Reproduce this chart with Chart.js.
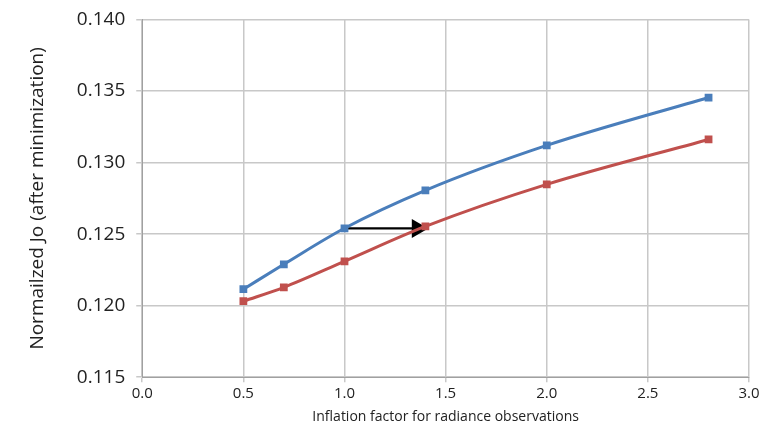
<!DOCTYPE html>
<html>
<head>
<meta charset="utf-8">
<script src="https://cdn.jsdelivr.net/npm/chart.js@4"></script>
<style>
  body { margin: 0; background: #fff; }
  #wrap { width: 769px; height: 426px; }
</style>
</head>
<body>
<div id="wrap"><canvas id="myChart" width="769" height="426"></canvas></div>
<script>
// values
var inflation = [0.5, 0.7, 1.0, 1.4, 2.0, 2.8];
var blueJo = [0.12115, 0.12289, 0.12541, 0.12806, 0.1312, 0.13455];
var redJo = [0.12031, 0.12128, 0.1231, 0.12554, 0.12848, 0.13162];
var arrowX = [1.0, 1.36];
var arrowY = [0.1254, 0.1254];
var xTicks = [0, 0.5, 1, 1.5, 2, 2.5, 3];
var yTicks = [0.115, 0.12, 0.125, 0.13, 0.135, 0.14];

function toPoints(xs, ys) {
  return xs.map((x, i) => ({ x: x, y: ys[i] }));
}

const whiteBg = {
  id: 'whiteBg',
  beforeDraw(c) {
    const ctx = c.ctx;
    ctx.save();
    ctx.fillStyle = '#fff';
    ctx.fillRect(0, 0, c.width, c.height);
    ctx.restore();
  }
};

const ctx = document.getElementById("myChart").getContext("2d");

const chart = new Chart(ctx, {
  type: "line",
  data: {
    datasets: [{
      label: "blue",
      data: toPoints(inflation, blueJo),
      borderColor: "#4a7ebb",
      backgroundColor: "#4a7ebb",
      borderWidth: 3,
      cubicInterpolationMode: "monotone",
      pointStyle: "rect",
      pointRadius: 5.5,
      pointBorderWidth: 0
    }, {
      label: "red",
      data: toPoints(inflation, redJo),
      borderColor: "#c0504d",
      backgroundColor: "#c0504d",
      borderWidth: 3,
      cubicInterpolationMode: "monotone",
      pointStyle: "rect",
      pointRadius: 5.5,
      pointBorderWidth: 0
    }, {
      label: "arrow",
      data: toPoints(arrowX, arrowY),
      borderColor: "#000",
      backgroundColor: "#000",
      borderWidth: 2.2,
      pointStyle: "triangle",
      pointRotation: 90,
      pointRadius: [0, 11],
      pointBorderWidth: 0
    }]
  },
  options: {
    responsive: false,
    animation: false,
    layout: { padding: { top: 3, right: 20, left: 26, bottom: 1 } },
    plugins: {
      legend: { display: false },
      tooltip: { enabled: false }
    },
    scales: {
      x: {
        type: "linear",
        min: 0,
        max: 3,
        afterBuildTicks: axis => { axis.ticks = xTicks.map(v => ({ value: v })); },
        ticks: {
          callback: v => v.toFixed(1),
          color: "#222",
          font: { family: "Open Sans", size: 15 },
          padding: 3
        },
        grid: { color: "#c8c8c8", lineWidth: 1.5, tickLength: 5 },
        border: { color: "#a0a0a0" },
        title: {
          display: true,
          text: "Inflation factor for radiance observations",
          color: "#222",
          font: { family: "Open Sans", size: 14 },
          padding: { top: 2, bottom: 0 }
        }
      },
      y: {
        min: 0.115,
        max: 0.14,
        afterBuildTicks: axis => { axis.ticks = yTicks.map(v => ({ value: v })); },
        ticks: {
          callback: v => v.toFixed(3),
          color: "#222",
          font: { family: "Open Sans", size: 19, lineHeight: 0.9 },
          padding: 11
        },
        grid: { color: "#c8c8c8", lineWidth: 1.5, tickLength: 6 },
        border: { color: "#a0a0a0" },
        title: {
          display: true,
          text: "Normailzed Jo (after minimization)",
          color: "#222",
          font: { family: "Open Sans", size: 19 },
          padding: { top: 0, bottom: 17 }
        }
      }
    }
  },
  plugins: [whiteBg]
});
</script>
</body>
</html>
